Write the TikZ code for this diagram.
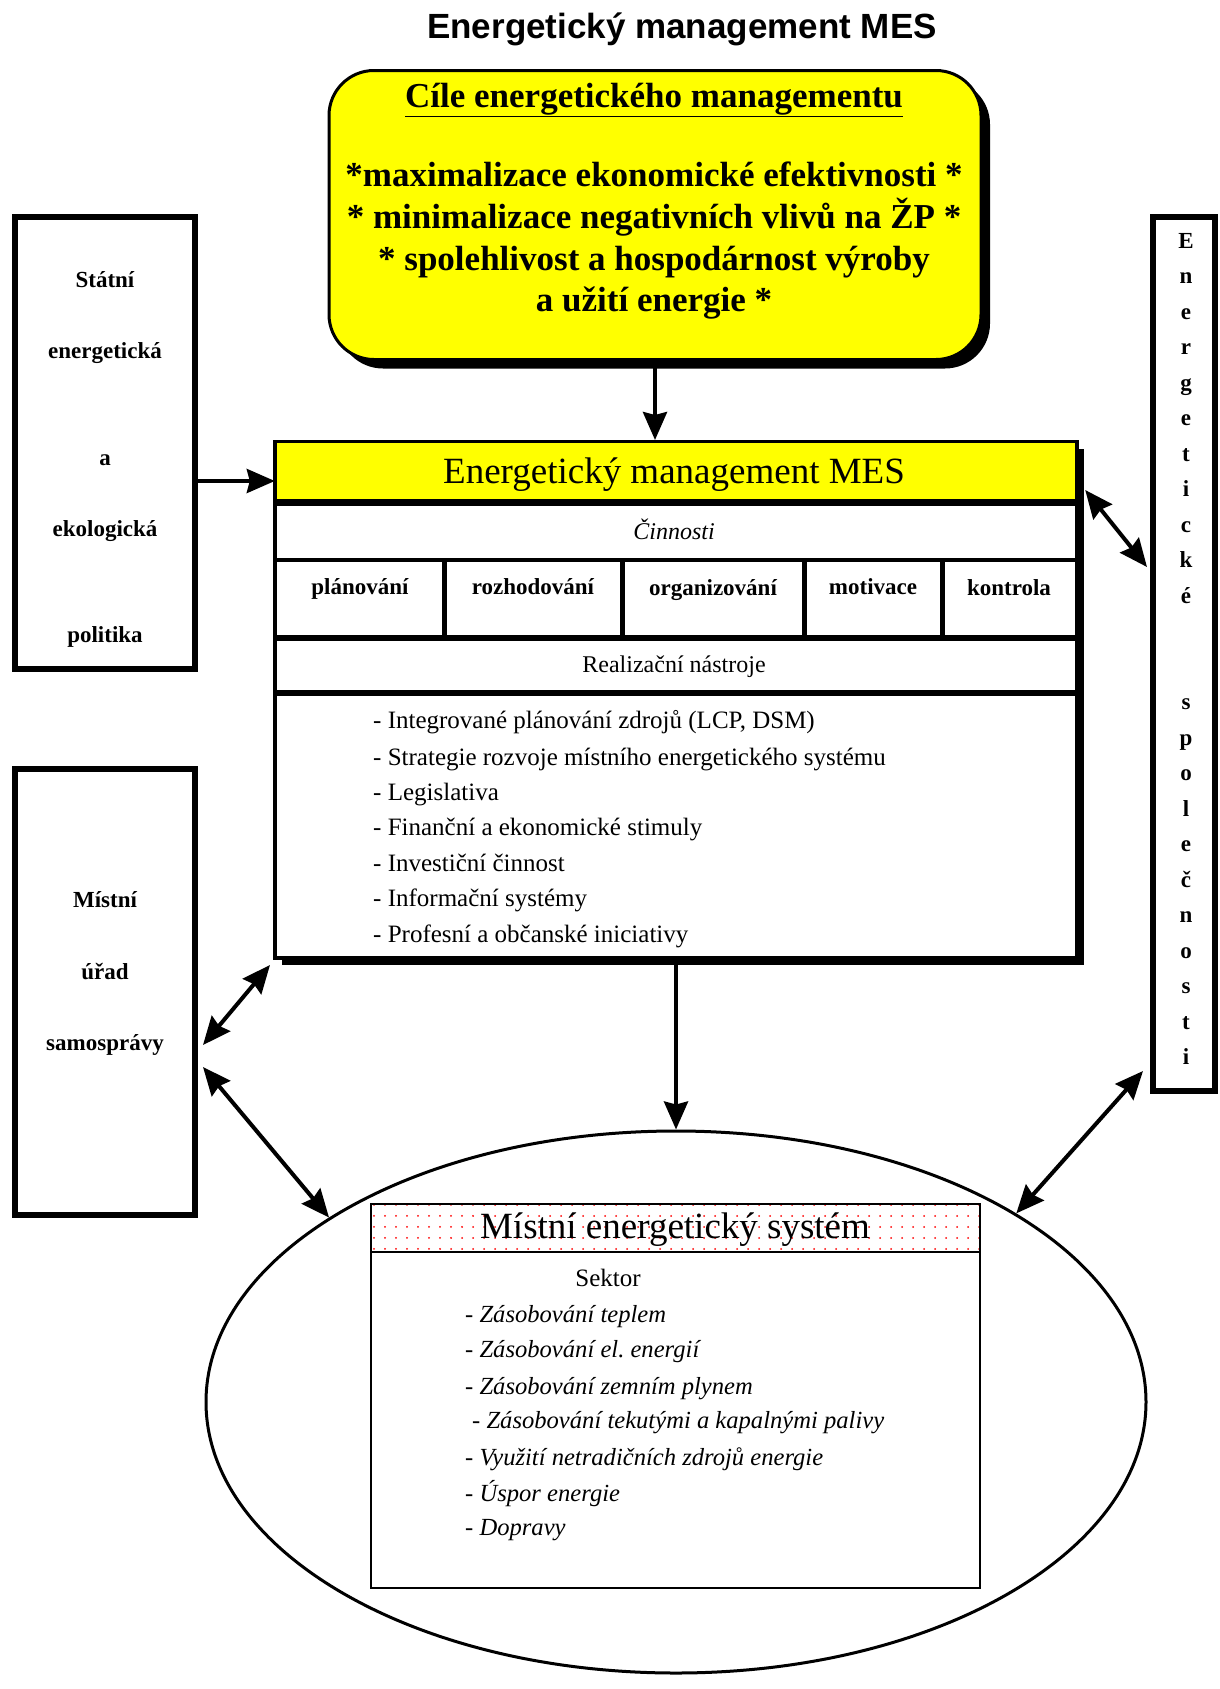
\documentclass[tikz,border=0pt]{standalone}
\usepackage{fontspec}
\setmainfont{Liberation Serif}
\setsansfont{Liberation Sans}
\usetikzlibrary{arrows.meta,shapes.geometric,shadows,patterns.meta,calc}

\definecolor{mesyellow}{RGB}{255,255,0}

\tikzset{
	txt/.style={inner sep=0pt, anchor=base},
	bigtxt/.style={txt, yshift=-10.5pt, font=\bfseries\fontsize{35}{42}\selectfont},
	celltxt/.style={txt, yshift=-7.5pt, font=\fontsize{24}{29}\selectfont},
	acttxt/.style={txt, yshift=-7pt, font=\bfseries\fontsize{23}{28}\selectfont},
	sidetxt/.style={txt, yshift=-7pt, font=\bfseries\fontsize{23}{28}\selectfont},
	tooltxt/.style={txt, anchor=base west, yshift=-7.5pt, font=\fontsize{25}{30}\selectfont},
	sectortxt/.style={txt, anchor=base west, yshift=-7.5pt, font=\itshape\fontsize{24.6}{30}\selectfont},
	sidebox/.style={draw, line width=6pt},
	rule/.style={line width=5pt},
	arr/.style={-{Stealth[length=28pt,width=24pt,inset=3pt]}, line width=4pt},
	dblarr/.style={{Stealth[length=28pt,width=24pt,inset=3pt]}-{Stealth[length=28pt,width=24pt,inset=3pt]}, line width=4pt},
}

\begin{document}
\begin{tikzpicture}[x=1pt,y=-1pt]
	\useasboundingbox (0,0) rectangle (1220,1689);

	\node (title) at (682,26) [txt, yshift=-12pt, font=\sffamily\bfseries\fontsize{35}{42}\selectfont] {Energetický management MES};

	\node (goals) at (655,215) [draw, line width=3pt, fill=mesyellow, rounded corners=45pt, minimum width=652pt, minimum height=289pt, drop shadow={shadow xshift=9pt, shadow yshift=-9pt, opacity=1, fill=black}] {};
	\node (goalhead) at (654,97) [bigtxt] {\underline{Cíle energetického managementu}};
	\node (goal1) at (654,176) [bigtxt] {*maximalizace ekonomické efektivnosti *};
	\node (goal2) at (654,218) [bigtxt] {* minimalizace negativních vlivů na ŽP *};
	\node (goal3) at (654,260) [bigtxt] {* spolehlivost a hospodárnost výroby};
	\node (goal4) at (654,301) [bigtxt] {a užití energie *};

	\node (mes) at (676,700) [draw, line width=4pt, fill=white, minimum width=802pt, minimum height=516pt, drop shadow={shadow xshift=7pt, shadow yshift=-7pt, opacity=1, fill=black}] {};
	\node (mesband) at (676,472) [fill=mesyellow, inner sep=0pt, minimum width=798pt, minimum height=58pt] {};
	\node (mestitle) at (674,472) [txt, yshift=-11pt, font=\fontsize{37}{44}\selectfont] {Energetický management MES};
	\draw[rule, line width=7pt] (mes.west |- 0,502) -- (mes.east |- 0,502);
	\draw[rule, line width=4pt] (mes.west |- 0,560) -- (mes.east |- 0,560);
	\draw[rule, line width=6pt] (mes.west |- 0,638) -- (mes.east |- 0,638);
	\draw[rule, line width=6pt] (mes.west |- 0,693) -- (mes.east |- 0,693);
	\foreach \x in {444,622,804,942}
		\draw[rule] (\x,560) -- (\x,638);

	\node (act) at (674,532) [txt, yshift=-7.5pt, font=\itshape\fontsize{24}{29}\selectfont] {Činnosti};
	\node (plan) at (360,587) [acttxt] {plánování};
	\node (decide) at (533,587) [acttxt] {rozhodování};
	\node (organize) at (713,588) [acttxt] {organizování};
	\node (motiv) at (873,587) [acttxt] {motivace};
	\node (control) at (1009,588) [acttxt] {kontrola};
	\node (tools) at (674,665) [celltxt] {Realizační nástroje};

	\node (tool1) at (373,721) [tooltxt] {- Integrované plánování zdrojů (LCP, DSM)};
	\node (tool2) at (373,758) [tooltxt] {- Strategie rozvoje místního energetického systému};
	\node (tool3) at (373,793) [tooltxt] {- Legislativa};
	\node (tool4) at (373,828) [tooltxt] {- Finanční a ekonomické stimuly};
	\node (tool5) at (373,864) [tooltxt] {- Investiční činnost};
	\node (tool6) at (373,899) [tooltxt] {- Informační systémy};
	\node (tool7) at (373,935) [tooltxt] {- Profesní a občanské iniciativy};

	\node (polstate) at (105,443) [sidebox, minimum width=180pt, minimum height=452pt] {};
	\node (pol1) at (105,280) [sidetxt] {Státní};
	\node (pol2) at (105,351) [sidetxt] {energetická};
	\node (pol3) at (105,458) [sidetxt] {a};
	\node (pol4) at (105,529) [sidetxt] {ekologická};
	\node (pol5) at (105,635) [sidetxt] {politika};

	\node (locgov) at (105,992) [sidebox, minimum width=180pt, minimum height=446pt] {};
	\node (loc1) at (105,900) [sidetxt] {Místní};
	\node (loc2) at (105,972) [sidetxt] {úřad};
	\node (loc3) at (105,1043) [sidetxt] {samosprávy};

	\node (energy) at (1184,654) [sidebox, minimum width=62pt, minimum height=874pt] {};
	\foreach \ch [count=\i from 0] in {E,n,e,r,g,e,t,i,c,k,é}
		\node (ea\i) at (1186,241+35.5*\i) [sidetxt] {\ch};
	\foreach \ch [count=\i from 13] in {s,p,o,l,e,č,n,o,s,t,i}
		\node (eb\i) at (1186,241+35.5*\i) [sidetxt] {\ch};

	\node (local) at (676,1402) [draw, ellipse, line width=3pt, minimum width=940pt, minimum height=542pt] {};
	\node (sysbox) at (675.5,1396) [draw, line width=1.3pt, minimum width=609pt, minimum height=384pt] {};
	\node (syshead) at (675.5,1228) [draw, line width=1.3pt, pattern={Dots[distance=11pt,radius=1pt]}, pattern color=red, minimum width=609pt, minimum height=48pt] {};
	\node (systitle) at (675,1228) [txt, yshift=-10.5pt, font=\fontsize{37}{44}\selectfont] {Místní energetický systém};
	\node (sector) at (608,1279) [txt, yshift=-7.5pt, font=\fontsize{25}{30}\selectfont] {Sektor};
	\node (sec1) at (465,1315) [sectortxt] {- Zásobování teplem};
	\node (sec2) at (465,1350) [sectortxt] {- Zásobování el.\ energií};
	\node (sec3) at (465,1387) [sectortxt] {- Zásobování zemním plynem};
	\node (sec4) at (472,1421) [sectortxt] {- Zásobování tekutými a kapalnými palivy};
	\node (sec5) at (465,1458) [sectortxt] {- Využití netradičních zdrojů energie};
	\node (sec6) at (465,1494) [sectortxt] {- Úspor energie};
	\node (sec7) at (465,1528) [sectortxt] {- Dopravy};

	\draw[arr] (goals.south) -- (goals.south |- mes.north);
	\draw[arr] ($(mesband.west -| polstate.east)+(0,9)$) -- ($(mesband.west)+(-2,9)$);
	\draw[arr] (mes.south) -- (mes.south |- local.north);
	\draw[dblarr] ($(mes.south west)+(-3,5)$) -- ($(locgov.east)+(5,53)$);
	\draw[dblarr] ($(locgov.east)+(5,75)$) -- (local.152);
	\draw[dblarr] ($(mesband.east)+(10,18)$) -- ($(energy.west)+(-3,-87)$);
	\draw[dblarr] ($(energy.south west)+(-7,-23)$) -- (local.29);
\end{tikzpicture}
\end{document}
